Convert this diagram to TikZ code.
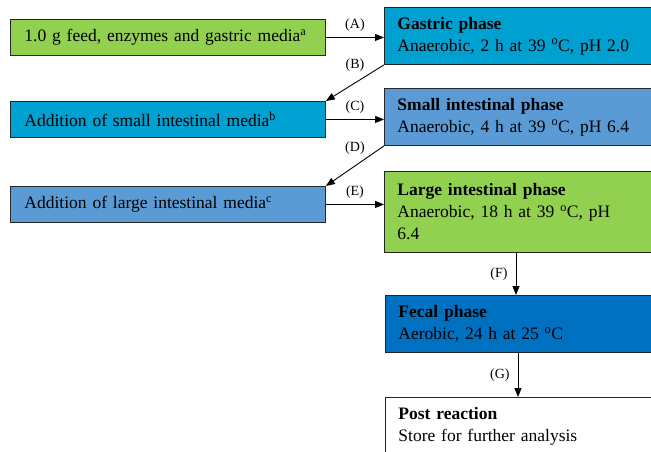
\documentclass[tikz,border=0pt]{standalone}
\usepackage{fontspec}
\setmainfont{Liberation Serif}
\usetikzlibrary{positioning,arrows.meta}
\definecolor{feedgreen}{RGB}{146,208,80}
\definecolor{gastricblue}{RGB}{0,160,208}
\definecolor{smallblue}{RGB}{91,155,213}
\definecolor{fecalblue}{RGB}{0,112,192}
\tikzset{
  mediabox/.style={draw=black!85, line width=0.9pt, anchor=north west, minimum height=36pt,
    text width=293pt, inner xsep=11pt, align=left, font=\fontsize{17.5}{22}\selectfont},
  phasebox/.style={draw=black!85, line width=0.9pt, anchor=north west, minimum height=57pt,
    text width=300pt, inner xsep=13pt, align=left, font=\fontsize{17.5}{22}\selectfont},
  steplabel/.style={font=\fontsize{14}{16}\selectfont, inner sep=1pt},
  flow/.style={-{Triangle[length=9pt,width=7pt]}, line width=0.9pt}
}

\begin{document}
\begin{tikzpicture}[x=1pt,y=1pt]
    \clip (0,0) rectangle (651,-452);
    % left column: media additions
    \node[mediabox, fill=feedgreen] (feed) at (10,-19) {\hspace*{3pt}1.0 g feed, enzymes and gastric media\textsuperscript{a}};
    \node[mediabox, fill=gastricblue] (smallmedia) at (10,-101) {\hspace*{3pt}Addition of small intestinal media\textsuperscript{b}};
    \node[mediabox, fill=smallblue] (largemedia) at (10,-186) {\hspace*{3pt}Addition of large intestinal media\textsuperscript{c}};
    % right column: phases
    \node[phasebox, fill=gastricblue] (gastric) at (384,-7) {\textbf{Gastric phase}\\Anaerobic, 2 h at 39 \textsuperscript{o}C, pH 2.0};
    \node[phasebox, fill=smallblue] (smallphase) at (384,-88) {\textbf{Small intestinal phase}\\Anaerobic, 4 h at 39 \textsuperscript{o}C, pH 6.4};
    \node[phasebox, fill=feedgreen, minimum height=81pt] (largephase) at (384,-171) {\textbf{Large intestinal phase}\\Anaerobic, 18 h at 39 \textsuperscript{o}C, pH\\6.4};
    \node[phasebox, fill=fecalblue] (fecal) at (385,-295) {\textbf{Fecal phase}\\Aerobic, 24 h at 25 \textsuperscript{o}C};
    \node[phasebox, fill=white] (post) at (385,-397) {\textbf{Post reaction}\\Store for further analysis};
    % connectors
    \draw[flow] (feed.east) -- node[steplabel, above=5pt] {(A)} (feed.east -| gastric.west);
    \draw[flow] (gastric.south west) -- node[steplabel, above=10pt] {(B)} (smallmedia.north east);
    \draw[flow] (smallmedia.east) -- node[steplabel, above=5pt] {(C)} (smallmedia.east -| smallphase.west);
    \draw[flow] (smallphase.south west) -- node[steplabel, above=10pt] {(D)} (largemedia.north east);
    \draw[flow] (largemedia.east) -- node[steplabel, above=5pt] {(E)} (largemedia.east -| largephase.west);
    \coordinate (fdrop) at ([xshift=132pt]largephase.south west);
    \draw[flow] (fdrop) -- node[steplabel, left=7pt] {(F)} (fdrop |- fecal.north);
    \coordinate (gdrop) at ([xshift=133pt]fecal.south west);
    \draw[flow] (gdrop) -- node[steplabel, left=7pt] {(G)} (gdrop |- post.north);
\end{tikzpicture}
\end{document}
